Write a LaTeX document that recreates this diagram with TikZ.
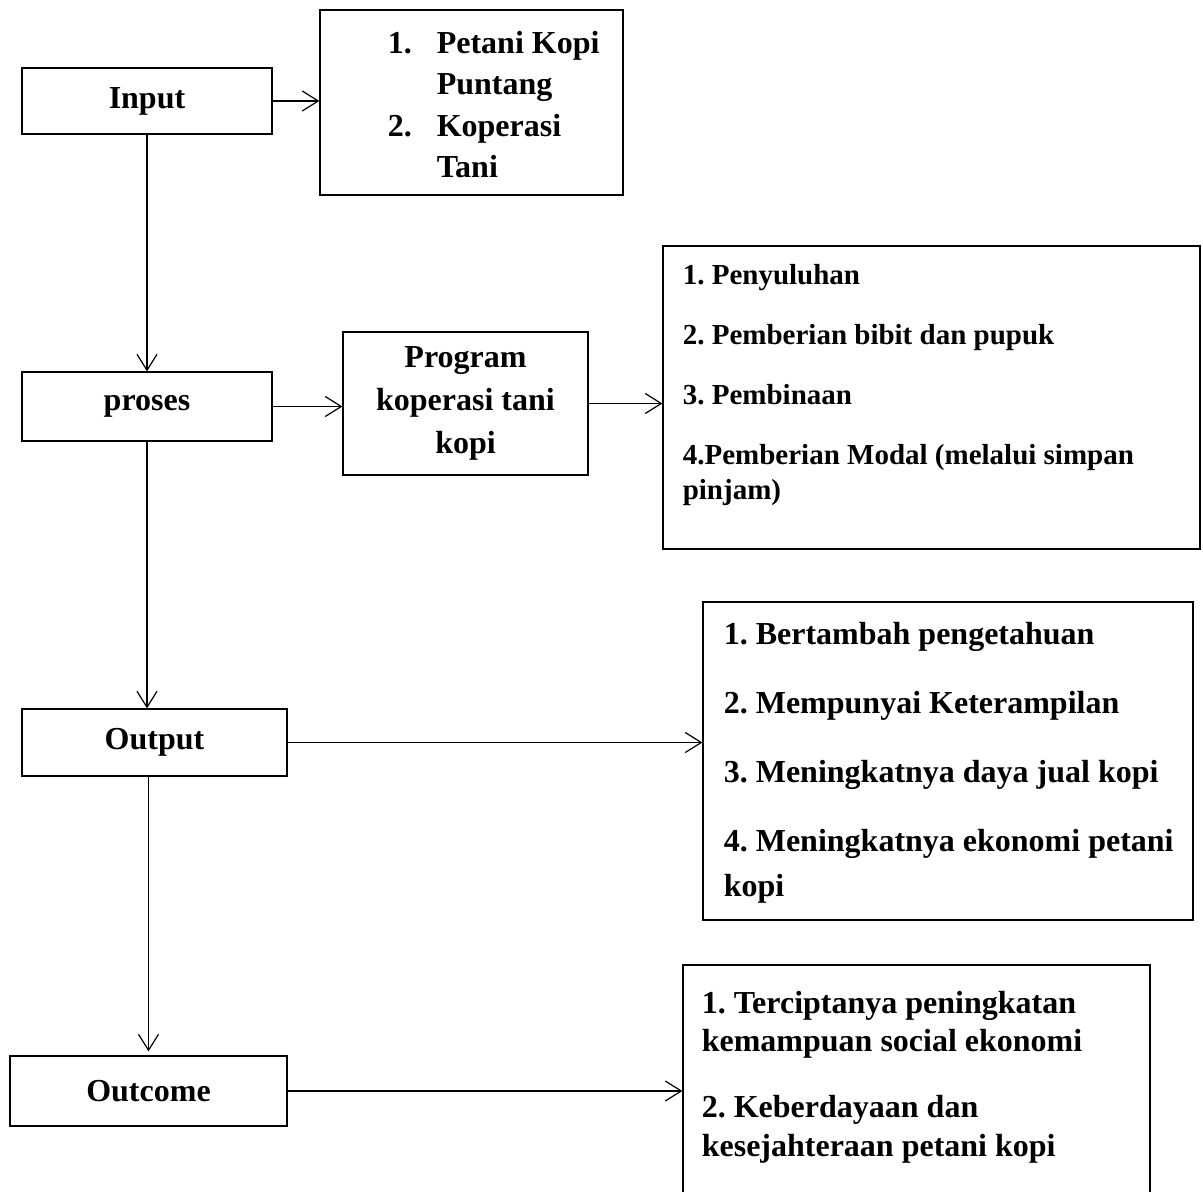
\documentclass[tikz,border=0pt]{standalone}
\usepackage{fontspec}
\setmainfont{Liberation Serif}
\usetikzlibrary{arrows.meta}
\frenchspacing

\tikzset{
  box/.style={draw, line width=0.6pt, inner sep=0pt},
  lbl/.style={font=\bfseries\fontsize{16}{21.5}\selectfont, align=center},
  items/.style={anchor=north west, inner sep=0pt, align=left, font=\bfseries\fontsize{16}{#1}\selectfont},
  flow/.style={-{Straight Barb[length=8pt,width=10pt]}, line width=0.6pt},
}

\begin{document}
\begin{tikzpicture}[x=0.5pt,y=-0.5pt]
\clip (0,0) rectangle (1203,1192);

% left column
\node[box, lbl, minimum width=125pt, minimum height=33pt] (input) at (147,101) {Input};
\node[box, lbl, minimum width=125pt, minimum height=34.5pt] (proses) at (147,406.5) {proses};
\node[box, lbl, minimum width=132.5pt, minimum height=33.5pt] (output) at (154.5,742.5) {Output};
\node[box, lbl, minimum width=138.5pt, minimum height=35pt] (outcome) at (148.5,1091) {Outcome};

% right side
\node[box, minimum width=151.5pt, minimum height=92.5pt] (peserta) at (471.5,102.5) {};
\node[items=20.5pt] at ([shift={(68,22)}]peserta.north west)
  {\makebox[24.5pt][l]{1.}Petani Kopi\\
   \hspace*{24.5pt}Puntang\\
   \makebox[24.5pt][l]{2.}Koperasi\\
   \hspace*{24.5pt}Tani};

\node[box, lbl, minimum width=122.5pt, minimum height=71.5pt] (program) at (465.5,403.5)
  {Program\\ koperasi tani\\ kopi};

\node[box, minimum width=268.5pt, minimum height=151.5pt] (kegiatan) at (931.5,397.5) {};
\node[items=17.5pt, font=\bfseries\fontsize{14.5}{17.5}\selectfont] at ([shift={(20,19)}]kegiatan.north west)
  {1. Penyuluhan\\[12.5pt]
   2. Pemberian bibit dan pupuk\\[12.5pt]
   3. Pembinaan\\[12.5pt]
   4.Pemberian Modal (melalui simpan\\
   pinjam)};

\node[box, minimum width=245pt, minimum height=159pt] (hasil) at (948,761) {};
\node[items=22.5pt] at ([shift={(21,20)}]hasil.north west)
  {1. Bertambah pengetahuan\\[12pt]
   2. Mempunyai Keterampilan\\[12pt]
   3. Meningkatnya daya jual kopi\\[12pt]
   4. Meningkatnya ekonomi petani\\
   kopi};

\node[box, minimum width=233.5pt, minimum height=137.5pt] (dampak) at (916.5,1102.5) {};
\node[items=19.25pt] at ([shift={(19,26)}]dampak.north west)
  {1. Terciptanya peningkatan\\
   kemampuan social ekonomi\\[13.75pt]
   2. Keberdayaan dan\\
   kesejahteraan petani kopi};

% connectors
\draw[flow] (input.east) -- (input.east -| peserta.west);
\draw[flow] (input.south) -- (proses.north);
\draw[flow] (proses.east) -- (proses.east -| program.west);
\draw[flow] (program.east) -- (program.east -| kegiatan.west);
\draw[flow] (proses.south) -- (proses.south |- output.north);
\draw[flow] (output.east) -- (output.east -| hasil.west);
\draw[flow, shorten >=2pt] (output.south -| outcome.north) -- (outcome.north);
\draw[flow] (outcome.east) -- (outcome.east -| dampak.west);
\end{tikzpicture}
\end{document}
